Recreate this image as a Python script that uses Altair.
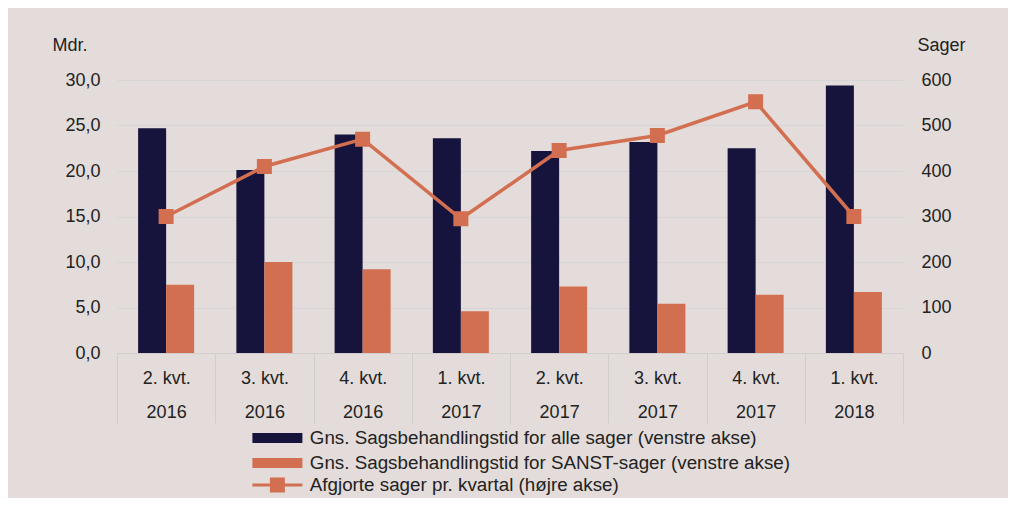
import altair as alt
import pandas as pd

# ---- data ----
quarters = ["2. kvt.", "3. kvt.", "4. kvt.", "1. kvt.", "2. kvt.", "3. kvt.", "4. kvt.", "1. kvt."]
years = ["2016", "2016", "2016", "2017", "2017", "2017", "2017", "2018"]
alle_sager = [24.7, 20.1, 24.0, 23.6, 22.2, 23.2, 22.5, 29.4]
sanst_sager = [7.5, 10.0, 9.2, 4.6, 7.3, 5.4, 6.4, 6.7]
afgjorte = [300, 410, 470, 295, 445, 478, 552, 300]

series_names = [
    "Gns. Sagsbehandlingstid for alle sager (venstre akse)",
    "Gns. Sagsbehandlingstid for SANST-sager (venstre akse)",
]
line_name = "Afgjorte sager pr. kvartal (højre akse)"

left_ticks = [0, 5, 10, 15, 20, 25, 30]
right_ticks = [0, 100, 200, 300, 400, 500, 600]

DARK = "#16143C"
ORANGE = "#D36F51"
BG = "#E3DCDA"
GRID = "#D6D5D7"
TXT = "#222222"
FONT = "Liberation Sans"
FS = 18
LFS = 18.8

cats = [f"{q}|{y}" for q, y in zip(quarters, years)]

bar_rows = []
for c, a, s in zip(cats, alle_sager, sanst_sager):
    bar_rows.append({"cat": c, "series": series_names[0], "value": a})
    bar_rows.append({"cat": c, "series": series_names[1], "value": s})
bars_df = pd.DataFrame(bar_rows)
line_df = pd.DataFrame({"cat": cats, "count": afgjorte, "label": [line_name] * len(cats)})

x_enc = alt.X(
    "cat:N",
    sort=cats,
    title=None,
    scale=alt.Scale(paddingInner=0, paddingOuter=0),
    axis=alt.Axis(
        labelExpr="isValid(datum.value) ? split(datum.value, '|') : ''",
        labelAngle=0,
        labelFont=FONT,
        labelFontSize=FS,
        labelColor=TXT,
        labelLineHeight=34,
        labelPadding=-54,
        ticks=True,
        tickBand="extent",
        tickSize=70,
        tickColor="#D2CDCC",
        tickWidth=1,
        domain=True,
        domainColor="#D2CDCC",
        grid=False,
    ),
)

bars = alt.Chart(bars_df).mark_bar(opacity=1).encode(
    x=x_enc,
    xOffset=alt.XOffset(
        "series:N", sort=series_names,
        scale=alt.Scale(paddingInner=0, paddingOuter=0.754),
    ),
    y=alt.Y(
        "value:Q",
        scale=alt.Scale(domain=[0, 30], nice=False),
        axis=alt.Axis(
            title="Mdr.",
            titleAngle=0,
            titleX=-65,
            titleY=-35,
            titleAlign="left",
            titleBaseline="middle",
            titleFont=FONT,
            titleFontSize=FS,
            titleFontWeight="normal",
            titleColor=TXT,
            values=left_ticks,
            labelExpr="replace(format(datum.value, '.1f'), '.', ',')",
            labelFont=FONT,
            labelFontSize=FS,
            labelColor=TXT,
            labelPadding=17,
            ticks=False,
            domain=False,
            grid=True,
            gridColor=GRID,
            gridWidth=1,
        ),
    ),
    color=alt.Color(
        "series:N",
        sort=series_names,
        scale=alt.Scale(domain=series_names, range=[DARK, ORANGE]),
        legend=alt.Legend(
            title=None,
            orient="none",
            legendX=151,
            legendY=348.5,
            direction="vertical",
            symbolType="M-5,-1H5V1H-5Z",
            symbolSize=100,
            symbolStrokeWidth=0,
            symbolOpacity=1,
            labelFont=FONT,
            labelFontSize=LFS,
            labelColor=TXT,
            labelOffset=23,
            rowPadding=5.2,
            padding=0,
            labelLimit=700,
        ),
    ),
)

line = alt.Chart(line_df).mark_line(
    strokeWidth=3.5,
    point=alt.OverlayMarkDef(shape="square", size=169, filled=True, fill=ORANGE, opacity=1),
).encode(
    x=x_enc,
    y=alt.Y(
        "count:Q",
        scale=alt.Scale(domain=[0, 600], nice=False),
        axis=alt.Axis(
            orient="right",
            title="Sager",
            titleAngle=0,
            titleX=14,
            titleY=-35,
            titleAlign="left",
            titleBaseline="middle",
            titleFont=FONT,
            titleFontSize=FS,
            titleFontWeight="normal",
            titleColor=TXT,
            values=right_ticks,
            labelFont=FONT,
            labelFontSize=FS,
            labelColor=TXT,
            labelPadding=18,
            ticks=False,
            domain=False,
            grid=False,
        ),
    ),
    stroke=alt.Stroke(
        "label:N",
        scale=alt.Scale(domain=[line_name], range=[ORANGE]),
        legend=alt.Legend(
            title=None,
            orient="none",
            legendX=151,
            legendY=395.5,
            symbolType="M-5,0H5M-1.2,-1.2H1.2V1.2H-1.2Z",
            symbolSize=100,
            symbolStrokeWidth=3,
            symbolFillColor=ORANGE,
            symbolOpacity=1,
            labelFont=FONT,
            labelFontSize=LFS,
            labelColor=TXT,
            labelOffset=23,
            padding=0,
            labelLimit=700,
        ),
    ),
)

chart = (
    alt.layer(bars, line)
    .resolve_scale(y="independent", color="independent")
    .properties(
        width=786,
        height=273,
        background=BG,
        padding={"left": 109, "right": 105, "top": 72, "bottom": 145},
        autosize=alt.AutoSizeParams(type="none"),
    )
    .configure_view(stroke=None)
)

chart.save("out.html", embed_options={"renderer": "svg", "actions": False})
